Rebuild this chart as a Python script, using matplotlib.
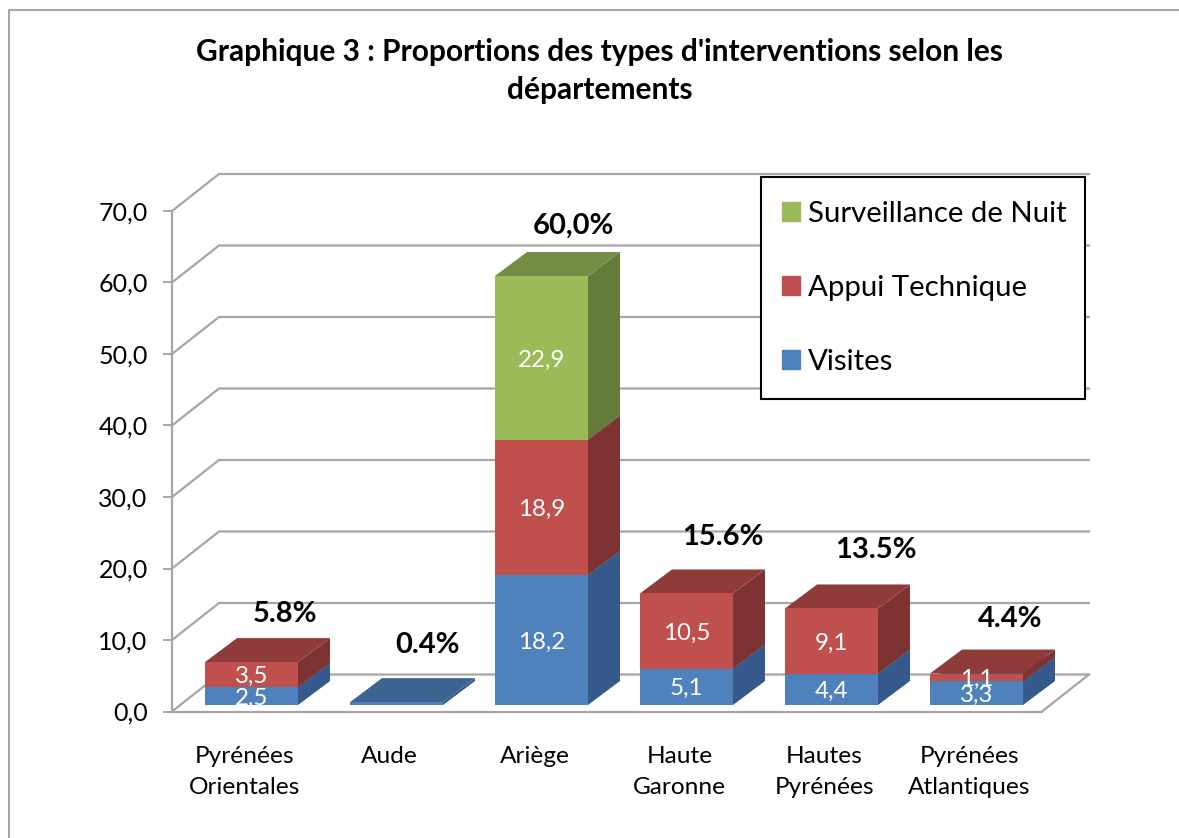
"""Graphique 3 - stacked pseudo-3D columns, drawn on a plain 2D axes."""
import matplotlib
matplotlib.use("Agg")
import matplotlib.pyplot as plt
import matplotlib.patches as mpatches
from matplotlib.lines import Line2D
from matplotlib.patches import Polygon, Rectangle

CATEGORIES = ["Pyrénées\nOrientales", "Aude", "Ariège", "Haute\nGaronne",
              "Hautes\nPyrénées", "Pyrénées\nAtlantiques"]
VISITES = [2.5, 0.4, 18.2, 5.1, 4.4, 3.3]
APPUI = [3.5, 0.0, 18.9, 10.5, 9.1, 1.1]
SURVEILLANCE = [0.0, 0.0, 22.9, 0.0, 0.0, 0.0]
SHOW_LABEL = [True, False, True, True, True, True]
TOTALS = ["5.8%", "0.4%", "60,0%", "15.6%", "13.5%", "4.4%"]
Y_TICKS = [0, 10, 20, 30, 40, 50, 60, 70]

W, H = 1179, 838
FONT = "Lato"
GREY = "#A6A6A6"

# colours: front, side, top
BLUE = ("#4F81BD", "#34598A", "#3D6391")
RED = ("#C0504D", "#7D3331", "#8E3B39")
GREEN = ("#9BBB59", "#657B3A", "#748C43")

# pixel centres of the bold totals above each column
TOTAL_POS = [(285, 614), (427, 645), (573, 226), (723, 537), (876, 550), (1010, 619)]

# depth of the walls and columns in data units
WALL_DX, WALL_DY = 47 / 145, 37 / 7.15
BAR_DX, BAR_DY = 32 / 145, 24 / 7.15
BASE_DX, BASE_DY = 7 / 145, 6.5 / 7.15
BAR_W = 93 / 145

plt.rcParams["font.family"] = [FONT, "DejaVu Sans"]

fig = plt.figure(figsize=(W / 100, H / 100), dpi=100, facecolor="white")
ax = fig.add_axes([172 / W, 1 - 711.5 / H, 870 / W, 500.5 / H])
ax.set_xlim(-0.5, 5.5)
ax.set_ylim(0, 70)
ax.patch.set_visible(False)

# outer frame, only top and left show in the crop
fig.add_artist(Line2D([9 / W, 9 / W, 1], [0, 1 - 10 / H, 1 - 10 / H],
                      color=GREY, lw=1.5))

for side in ["top", "right"]:
    ax.spines[side].set_visible(False)
for side in ["left", "bottom"]:
    ax.spines[side].set_color(GREY)
    ax.spines[side].set_linewidth(1.6)

# back wall gridlines and left wall diagonals
for v in Y_TICKS:
    ax.plot([-0.5, -0.5 + WALL_DX, 5.5 + WALL_DX],
            [v, v + WALL_DY, v + WALL_DY],
            color=GREY, lw=1.6, clip_on=False, zorder=1)
# right edge of the floor
ax.plot([5.5, 5.5 + WALL_DX], [0, WALL_DY], color=GREY, lw=1.6, clip_on=False, zorder=1)


def draw_block(x, y0, y1, colors, z):
    x0 = x - BAR_W / 2 + BASE_DX
    x1 = x + BAR_W / 2 + BASE_DX
    y0 = y0 + BASE_DY
    y1 = y1 + BASE_DY
    front, sidec, top = colors
    for pts, c in [([(x1, y0), (x1 + BAR_DX, y0 + BAR_DY), (x1 + BAR_DX, y1 + BAR_DY), (x1, y1)], sidec),
                   ([(x0, y1), (x1, y1), (x1 + BAR_DX, y1 + BAR_DY), (x0 + BAR_DX, y1 + BAR_DY)], top),
                   ([(x0, y0), (x1, y0), (x1, y1), (x0, y1)], front)]:
        ax.add_patch(Polygon(pts, closed=True, facecolor=c, edgecolor="none",
                             clip_on=False, zorder=z))


for i in range(len(CATEGORIES)):
    bottom = 0
    for vals, colors in [(VISITES, BLUE), (APPUI, RED), (SURVEILLANCE, GREEN)]:
        v = vals[i]
        if v <= 0:
            continue
        draw_block(i, bottom, bottom + v, colors, 3 + bottom / 100)
        if SHOW_LABEL[i]:
            ax.text(i + BASE_DX, bottom + v / 2 + BASE_DY, f"{v:.1f}".replace(".", ","),
                    color="white", fontsize=17.4, ha="center", va="center_baseline", zorder=6)
        bottom += v

ax.set_yticks(Y_TICKS)
ax.set_yticklabels([f"{v:.1f}".replace(".", ",") for v in Y_TICKS], fontsize=18)
ax.tick_params(axis="y", length=6.5, width=1.4, color=GREY, pad=11)
ax.set_xticks(range(len(CATEGORIES)))
ax.set_xticklabels(CATEGORIES, fontsize=17.6, linespacing=1.6)
ax.tick_params(axis="x", length=0, pad=24.5)

for txt, (px, py) in zip(TOTALS, TOTAL_POS):
    fig.text(px / W, 1 - py / H, txt, fontsize=21, fontweight="bold",
             ha="center", va="center", zorder=7)

fig.text(600 / W, 1 - 71 / H,
         "Graphique 3 : Proportions des types d'interventions selon les\ndépartements",
         fontsize=21.5, fontweight="bold", ha="center", va="center", linespacing=1.45)

# legend box drawn apart, its padding differs in x and y
ax.add_patch(Rectangle((761 / W, 1 - 399 / H), 324 / W, 222 / H, transform=fig.transFigure,
                       facecolor="white", edgecolor="black", lw=1.5, clip_on=False, zorder=7.5))
handles = [mpatches.Patch(color=GREEN[0], label="Surveillance de Nuit"),
           mpatches.Patch(color=RED[0], label="Appui Technique"),
           mpatches.Patch(color=BLUE[0], label="Visites")]
leg = ax.legend(handles=handles, loc="upper left",
                bbox_to_anchor=(782 / W, 1 - 201 / H), bbox_transform=fig.transFigure,
                borderaxespad=0, borderpad=0, fontsize=21.2, frameon=False,
                handlelength=0.61, handleheight=0.61,
                handletextpad=0.27, labelspacing=1.626)
leg.set_zorder(8)

fig.savefig("out.png", dpi=100)
